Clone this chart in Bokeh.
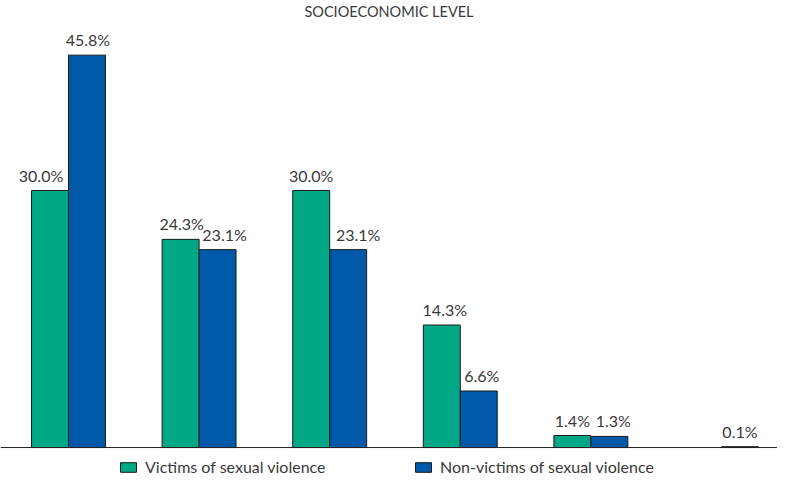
from bokeh.plotting import figure
from bokeh.models import ColumnDataSource, Span, Legend, LegendItem, LabelSet
from bokeh.transform import dodge
from bokeh.core.properties import value
from bokeh.embed import file_html
from bokeh.resources import INLINE

# ---- data ----
levels = ["Level 1", "Level 2", "Level 3", "Level 4", "Level 5", "Level 6"]
victims = [30.0, 24.3, 30.0, 14.3, 1.4, None]
non_victims = [45.8, 23.1, 23.1, 6.6, 1.3, 0.1]
series_names = ["Victims of sexual violence", "Non-victims of sexual violence"]
title_text = "SOCIOECONOMIC LEVEL"

# ---- styles ----
GREEN = "#00a886"
BLUE = "#0058a8"
FONT = "Lato"
TEXT_COLOR = "#3a3a3a"
BAR_W = 0.283
# small horizontal nudges (px) of value labels, as in the reference
victim_nudge = [-9, 1, 0, 3, 0, 0]
non_victim_nudge = [1, 7, 10, 3, 4, 0]

x_idx = list(range(len(levels)))
src = ColumnDataSource(dict(
    x=x_idx,
    victims=[float("nan") if v is None else v for v in victims],
    non_victims=non_victims,
))

p = figure(width=777, height=476, output_backend="svg", toolbar_location=None,
           x_range=(-0.5207, 5.429), y_range=(-3.38, 49.96),
           min_border=0, min_border_left=0, min_border_right=0,
           min_border_top=0, min_border_bottom=0)
p.outline_line_color = None
p.xaxis.visible = False
p.yaxis.visible = False
p.grid.visible = False
p.background_fill_color = "white"
p.border_fill_color = "white"

p.title.text = title_text
p.title.align = "center"
p.title.text_font = FONT
p.title.text_font_size = "14.5px"
p.title.text_font_style = "normal"
p.title.text_color = TEXT_COLOR
p.title.standoff = 0
p.title.offset = 0

r1 = p.vbar(x=dodge("x", -BAR_W / 2, range=p.x_range), top="victims", width=BAR_W,
            bottom=0, source=src, fill_color=GREEN, line_color="#1a1a1a", line_width=1)
r2 = p.vbar(x=dodge("x", BAR_W / 2, range=p.x_range), top="non_victims", width=BAR_W,
            bottom=0, source=src, fill_color=BLUE, line_color="#1a1a1a", line_width=1)

p.add_layout(Span(location=0, dimension="width", line_color="#222222", line_width=1))

# value labels
lx, ly, lt, lo = [], [], [], []
for i, v in enumerate(victims):
    if v is not None:
        lx.append(i - BAR_W / 2); ly.append(v); lt.append(f"{v:.1f}%"); lo.append(victim_nudge[i])
for i, v in enumerate(non_victims):
    if v is not None:
        lx.append(i + BAR_W / 2); ly.append(v); lt.append(f"{v:.1f}%"); lo.append(non_victim_nudge[i])
lsrc = ColumnDataSource(dict(x=lx, y=ly, t=lt, dx=lo))
labels = LabelSet(x="x", y="y", text="t", source=lsrc, x_offset="dx", y_offset=9,
                  text_align="center", text_baseline="alphabetic",
                  text_font=value(FONT), text_font_size=value("16px"),
                  text_color=value(TEXT_COLOR))
p.add_layout(labels)

def make_legend(item, loc):
    lg = Legend(items=[item], location=loc, orientation="horizontal",
                glyph_width=20, glyph_height=12, label_height=13,
                label_standoff=7, padding=0, margin=0, border_line_color=None,
                background_fill_alpha=0, label_text_font=FONT,
                label_text_font_size="16px", label_text_color=TEXT_COLOR,
                label_text_baseline="middle")
    return lg

p.add_layout(make_legend(LegendItem(label=series_names[0], renderers=[r1]), (118, 0)))
p.add_layout(make_legend(LegendItem(label=series_names[1], renderers=[r2]), (413, 0)))

open("out.html", "w").write(file_html(p, INLINE))
